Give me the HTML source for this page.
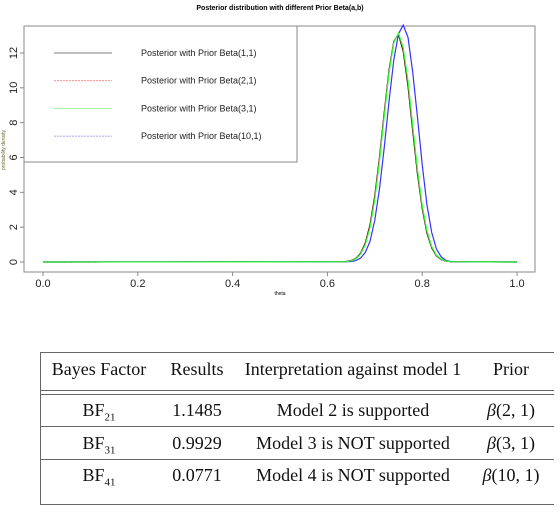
<!DOCTYPE html>
<html><head><meta charset="utf-8"><style>
body{margin:0;background:#fff;width:560px;height:512px;overflow:hidden;position:relative}
svg{position:absolute;left:0;top:0}
#tbl{position:absolute;left:40px;top:352px;width:513px;height:151px;border-top:1.5px solid #666;border-bottom:1.5px solid #666;border-left:1.5px solid #666;font-family:"Liberation Serif",serif;font-size:18px;color:#111}
.row{position:absolute;left:0;width:513px}
.c{position:absolute;text-align:center;white-space:nowrap}
sub{font-size:11px}
</style></head><body>
<svg width="560" height="340">
<text x="280" y="10" font-family="Liberation Sans,sans-serif" font-size="7" font-weight="bold" text-anchor="middle">Posterior distribution with different Prior Beta(a,b)</text>
<rect x="24" y="26" width="511" height="246" fill="none" stroke="#888" stroke-width="1"/>
<g id="axes" font-family="Liberation Sans,sans-serif" font-size="11" fill="#222"></g>
<g id="series"></g>
<text x="280" y="295" font-family="Liberation Sans,sans-serif" font-size="5" text-anchor="middle">theta</text>
<text transform="translate(5,150) rotate(-90)" font-family="Liberation Sans,sans-serif" font-size="5" text-anchor="middle" fill="#663">probability density</text>
<g>
<rect x="24" y="26" width="273" height="136" fill="#fff" stroke="#888" stroke-width="1"/>
<g id="legend" font-family="Liberation Sans,sans-serif" font-size="9" fill="#222"></g>
</g>
</svg>
<div id="tbl">
<div style="position:absolute;left:0;top:37px;width:513px;height:3px;border-top:1.2px solid #666;border-bottom:1.2px solid #666"></div>
<div style="position:absolute;left:0;top:73px;width:513px;border-top:1.2px solid #666"></div>
<div style="position:absolute;left:0;top:106px;width:513px;border-top:1.2px solid #666"></div>
<div class="row" style="top:6px">
<span class="c" style="left:0;width:116px">Bayes Factor</span><span class="c" style="left:118px;width:76px">Results</span><span class="c" style="left:196px;width:232px">Interpretation against model 1</span><span class="c" style="left:430px;width:80px">Prior</span></div>
<div class="row" style="top:47px">
<span class="c" style="left:0;width:116px">BF<sub>21</sub></span><span class="c" style="left:118px;width:76px">1.1485</span><span class="c" style="left:196px;width:232px">Model 2 is supported</span><span class="c" style="left:430px;width:80px"><i>β</i>(2, 1)</span></div>
<div class="row" style="top:80px">
<span class="c" style="left:0;width:116px">BF<sub>31</sub></span><span class="c" style="left:118px;width:76px">0.9929</span><span class="c" style="left:196px;width:232px">Model 3 is NOT supported</span><span class="c" style="left:430px;width:80px"><i>β</i>(3, 1)</span></div>
<div class="row" style="top:112px">
<span class="c" style="left:0;width:116px">BF<sub>41</sub></span><span class="c" style="left:118px;width:76px">0.0771</span><span class="c" style="left:196px;width:232px">Model 4 is NOT supported</span><span class="c" style="left:430px;width:80px"><i>β</i>(10, 1)</span></div>
</div>
<script>
const xTicks=[0,0.2,0.4,0.6,0.8,1.0];
const xTickLabels=["0.0","0.2","0.4","0.6","0.8","1.0"];
const yTicks=[0,2,4,6,8,10,12];
const thetaA=[0,0.63,0.64,0.65,0.66,0.67,0.68,0.69,0.70,0.71,0.72,0.73,0.74,0.75,0.76,0.77,0.78,0.79,0.80,0.81,0.82,0.83,0.84,0.85,0.86,1];
const densBeta11=[0,0.01,0.03,0.08,0.2,0.5,1.09,2.15,3.8,6.0,8.6,11.0,12.65,13.07,12.1,10.1,7.55,5.05,3.08,1.67,0.81,0.35,0.14,0.05,0.015,0];
const densBeta21=[0,0.01,0.03,0.08,0.2,0.49,1.07,2.12,3.75,5.95,8.55,10.95,12.65,13.1,12.15,10.2,7.65,5.15,3.15,1.72,0.84,0.37,0.15,0.05,0.015,0];
const densBeta31=[0,0.01,0.02,0.07,0.18,0.45,1.0,2.0,3.6,5.8,8.4,10.85,12.6,13.15,12.3,10.4,7.85,5.3,3.25,1.8,0.88,0.39,0.16,0.06,0.02,0];
const thetaB=[0,0.64,0.65,0.66,0.67,0.68,0.69,0.70,0.71,0.72,0.73,0.74,0.75,0.76,0.77,0.78,0.79,0.80,0.81,0.82,0.83,0.84,0.85,0.86,0.87,1];
const densBeta101=[0,0.01,0.03,0.08,0.22,0.55,1.2,2.4,4.2,6.6,9.2,11.6,13.1,13.6,12.9,10.9,8.3,5.6,3.3,1.7,0.75,0.29,0.1,0.03,0.01,0];
const legendLabels=["Posterior with Prior Beta(1,1)","Posterior with Prior Beta(2,1)","Posterior with Prior Beta(3,1)","Posterior with Prior Beta(10,1)"];
const NS="http://www.w3.org/2000/svg";
const xs=v=>43+v*474, ys=v=>262-v*17.42;
const ax=document.getElementById('axes');
function mk(t,a,p){const e=document.createElementNS(NS,t);for(const k in a)e.setAttribute(k,a[k]);p.appendChild(e);return e;}
xTicks.forEach((v,i)=>{
 const l=mk('line',{x1:xs(v),x2:xs(v),y1:272,y2:276,stroke:'#888'},ax);
 
 
 const t=mk('text',{x:xs(v),y:287,'text-anchor':'middle'},ax);t.textContent=xTickLabels[i];
 
 
});
yTicks.forEach(v=>{
 const l=mk('line',{x1:20,x2:24,y1:ys(v),y2:ys(v),stroke:'#888'},ax);
 
 
 const t=mk('text',{transform:`translate(17,${ys(v)}) rotate(-90)`,'text-anchor':'middle'},ax);t.textContent=String(v);
 
 
});
const sg=document.getElementById('series');
const series=[[thetaA,densBeta11,'#000','none','posterior-beta-1-1'],[thetaA,densBeta21,'#c00000','2,1','posterior-beta-2-1'],[thetaB,densBeta101,'#3333ff','none','posterior-beta-10-1'],[thetaA,densBeta31,'#33ff33','none','posterior-beta-3-1']];
series.forEach(s=>{
 const d=s[0].map((x,i)=>(i?'L':'M')+xs(x).toFixed(1)+','+ys(s[1][i]).toFixed(1)).join('');
 const p=mk('path',{d:d,fill:'none',stroke:s[2],'stroke-width':1.2,'stroke-dasharray':s[3]},sg);
 
 
});
const lg=document.getElementById('legend');
const lcol=['#555','#f08080','#88ee88','#8888ee'],ldash=['none','2,1','none','2,1'];
legendLabels.forEach((lab,i)=>{
 const y=53+i*27.7;
 const l=mk('line',{x1:54,x2:112,y1:y,y2:y,stroke:lcol[i],'stroke-width':0.8,'stroke-dasharray':ldash[i]},lg);
 
 
 const t=mk('text',{x:141,y:y+3},lg);t.textContent=lab;
 
 
});
</script>
</body></html>
